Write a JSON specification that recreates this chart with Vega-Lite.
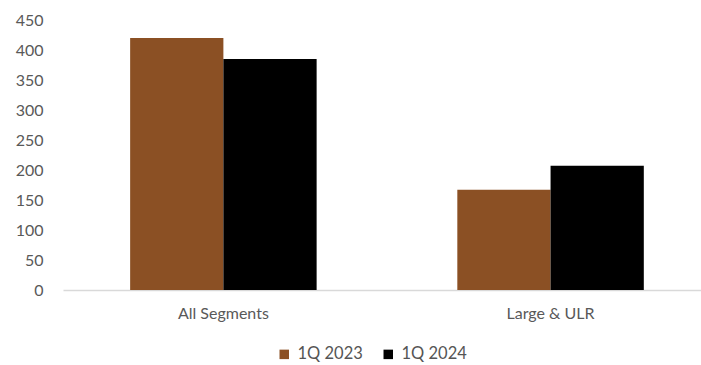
{
  "$schema": "https://vega.github.io/schema/vega-lite/v6.json",
  "autosize": {"type": "none"},
  "padding": {"left": 63, "top": 20, "right": 0, "bottom": 75},
  "width": 638,
  "height": 270,
  "background": "white",
  "config": {
    "view": {"stroke": null},
    "font": "Lato",
    "axis": {"labelFont": "Lato", "labelColor": "#595959", "labelFontSize": 16, "ticks": false, "grid": false}
  },
  "data": {
    "values": [
      {"segment": "All Segments", "period": "1Q 2023", "value": 420},
      {"segment": "All Segments", "period": "1Q 2024", "value": 385},
      {"segment": "Large & ULR", "period": "1Q 2023", "value": 167},
      {"segment": "Large & ULR", "period": "1Q 2024", "value": 207}
    ]
  },
  "mark": {"type": "bar"},
  "encoding": {
    "x": {
      "field": "segment",
      "type": "nominal",
      "sort": null,
      "title": null,
      "scale": {"paddingInner": 0.43, "paddingOuter": 0.19, "align": 0.54},
      "axis": {"labelAngle": 0, "labelPadding": 15, "domainColor": "#d9d9d9", "domainWidth": 1.5}
    },
    "xOffset": {"field": "period", "type": "nominal", "scale": {"paddingInner": 0, "paddingOuter": 0}},
    "y": {
      "field": "value",
      "type": "quantitative",
      "title": null,
      "scale": {"domain": [0, 450]},
      "axis": {"values": [0, 50, 100, 150, 200, 250, 300, 350, 400, 450], "domain": false, "labelPadding": 20}
    },
    "color": {
      "field": "period",
      "type": "nominal",
      "scale": {"domain": ["1Q 2023", "1Q 2024"], "range": ["#8b5024", "#000000"]},
      "legend": {
        "title": null,
        "orient": "none",
        "direction": "horizontal",
        "legendX": 213,
        "legendY": 326,
        "symbolType": "square",
        "symbolSize": 90,
        "symbolStrokeWidth": 0,
        "labelFont": "Lato",
        "labelFontSize": 16.5,
        "labelColor": "#555555",
        "columnPadding": 17,
        "labelOffset": 5
      }
    }
  }
}
